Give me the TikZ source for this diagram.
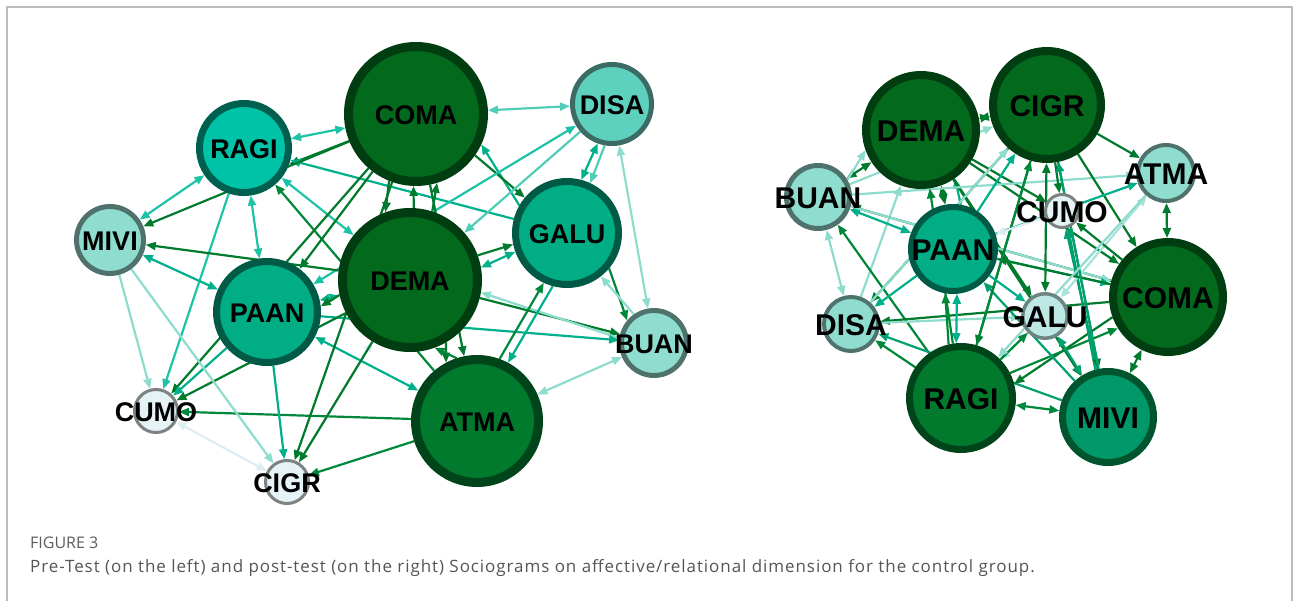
\documentclass[tikz,border=0pt]{standalone}
\usepackage{fontspec}
\setmainfont{Liberation Sans}
\newfontfamily\capfont{Open Sans}
\newfontfamily\capfontls{Open Sans}[LetterSpace=5.5]
\usetikzlibrary{arrows.meta}
\pgfdeclarelayer{edges}
\pgfsetlayers{edges,main}
% node colours
\definecolor{dkF}{HTML}{03691D}
\definecolor{dkB}{HTML}{003D10}
\definecolor{atF}{HTML}{017A2E}
\definecolor{atB}{HTML}{00441A}
\definecolor{rgF}{HTML}{00C2A6}
\definecolor{rgB}{HTML}{006050}
\definecolor{pnF}{HTML}{00AD85}
\definecolor{pnB}{HTML}{005A45}
\definecolor{dsF}{HTML}{5DD1BD}
\definecolor{dsB}{HTML}{3C6B63}
\definecolor{ltF}{HTML}{8EDDCF}
\definecolor{ltB}{HTML}{4F726C}
\definecolor{vlF}{HTML}{E6F3F6}
\definecolor{vlB}{HTML}{7C8282}
\definecolor{mvF}{HTML}{009868}
\definecolor{mvB}{HTML}{00552F}
\definecolor{glF}{HTML}{BEE8E4}
\definecolor{glB}{HTML}{6E8481}
% edge colours
\definecolor{eDk}{HTML}{007A2C}
\definecolor{eAt}{HTML}{00883A}
\definecolor{eRg}{HTML}{1DC3A6}
\definecolor{ePn}{HTML}{00B08A}
\definecolor{eDs}{HTML}{4FCDB6}
\definecolor{eLt}{HTML}{8EDCCD}
\definecolor{eVl}{HTML}{DCEEF2}
\definecolor{eMv}{HTML}{00A070}
\definecolor{eGl}{HTML}{A8E2DA}
\definecolor{framec}{HTML}{BBBBBB}
\definecolor{capfig}{HTML}{5C5C5C}
\definecolor{captxt}{HTML}{555555}
\tikzset{
  lbl/.style={inner sep=0pt, text=black},
  ed/.style={draw=#1, line width=2.2pt, -{Triangle[length=10pt,width=8pt]}},
  md/.style={draw=#1, line width=2.2pt, {Triangle[length=10pt,width=8pt]}-{Triangle[length=10pt,width=8pt]}},
}
% name, x, y, outer radius, border width, fill, draw, text, font size
\newcommand\mknode[9]{%
  \node[circle, inner sep=0pt, outer sep={#5*0.5pt}, minimum size={(2*#4-#5)*1pt},
        line width=#5pt, fill=#6, draw=#7,
        label={[lbl, font=\fontsize{#9}{#9}\selectfont\bfseries, yshift=-1.5pt]center:#8}]
        (#1) at (#2,#3) {};}
\newcommand\E[3]{\draw[ed=#3] (#1) -- (#2);}
\newcommand\M[3]{\draw[md=#3] (#1) -- (#2);}
\begin{document}
\begin{tikzpicture}[x=1pt,y=-1pt]
\useasboundingbox (0,0) rectangle (1293,601);
\draw[framec, line width=1.3pt] (7,601) -- (7,7) -- (1292,7) -- (1292,601);
% ---------------- left sociogram ----------------
\mknode{L-COMA}{416}{114}{72}{9}{dkF}{dkB}{COMA}{27}
\mknode{L-DEMA}{410}{280}{72}{9}{dkF}{dkB}{DEMA}{27}
\mknode{L-ATMA}{477}{421}{66}{9}{atF}{atB}{ATMA}{27}
\mknode{L-RAGI}{244}{148}{48}{7}{rgF}{rgB}{RAGI}{27}
\mknode{L-PAAN}{267}{312}{54}{7}{pnF}{pnB}{PAAN}{27}
\mknode{L-GALU}{567}{233}{55}{7}{pnF}{pnB}{GALU}{27}
\mknode{L-DISA}{612}{104}{42}{5}{dsF}{dsB}{DISA}{27}
\mknode{L-MIVI}{110}{240}{36}{5}{ltF}{ltB}{MIVI}{27}
\mknode{L-BUAN}{654}{343}{35}{5}{ltF}{ltB}{BUAN}{27}
\mknode{L-CUMO}{156}{411}{23}{3}{vlF}{vlB}{CUMO}{27}
\mknode{L-CIGR}{287}{482}{23}{3}{vlF}{vlB}{CIGR}{27}
% ---------------- right sociogram ----------------
\mknode{R-DEMA}{921}{130}{59}{8}{dkF}{dkB}{DEMA}{30}
\mknode{R-CIGR}{1047}{105}{58}{8}{dkF}{dkB}{CIGR}{30}
\mknode{R-COMA}{1168}{297}{59}{8}{dkF}{dkB}{COMA}{30}
\mknode{R-RAGI}{961}{398}{55}{7}{atF}{atB}{RAGI}{30}
\mknode{R-MIVI}{1108}{417}{49}{7}{mvF}{mvB}{MIVI}{30}
\mknode{R-PAAN}{953}{249}{45}{6}{pnF}{pnB}{PAAN}{30}
\mknode{R-BUAN}{818}{197}{34}{5}{ltF}{ltB}{BUAN}{30}
\mknode{R-ATMA}{1166}{173}{30}{4}{ltF}{ltB}{ATMA}{30}
\mknode{R-DISA}{851}{324}{29}{4}{ltF}{ltB}{DISA}{30}
\mknode{R-GALU}{1045}{316}{24}{3.5}{glF}{glB}{GALU}{30}
\mknode{R-CUMO}{1062}{211}{18}{3}{vlF}{vlB}{CUMO}{30}
% ---------------- caption ----------------
\node[anchor=base west, inner sep=0pt, text=capfig, font=\capfont\fontsize{16}{16}\selectfont] (fig) at (30,548) {FIGURE 3};
\node[anchor=base west, inner sep=0pt, text=captxt, font=\capfontls\fontsize{17}{17}\selectfont] (cap) at (30,572) {Pre-Test (on the left) and post-test (on the right) Sociograms on affective/relational dimension for the control group.};
% ---------------- edges ----------------
\begin{pgfonlayer}{edges}
% left
\M{L-RAGI}{L-COMA}{eRg}
\E{L-COMA.202}{L-RAGI.-20}{eDk}
\E{L-GALU}{L-RAGI}{ePn}
\M{L-MIVI}{L-RAGI}{eRg}
\E{L-COMA}{L-MIVI}{eDk}
\M{L-RAGI}{L-PAAN}{eRg}
\E{L-RAGI}{L-CUMO}{eRg}
\M{L-RAGI}{L-DEMA}{eRg}
\E{L-ATMA}{L-RAGI}{eAt}
\E{L-COMA}{L-PAAN}{eDk}
\E{L-COMA}{L-CUMO}{eDk}
\E{L-DEMA.87}{L-COMA.-92}{eDk}
\E{L-DEMA.72}{L-COMA.-73}{eDk}
\E{L-COMA.-112}{L-DEMA.110}{eDk}
\E{L-GALU.150}{L-COMA.-25}{ePn}
\E{L-COMA.-35}{L-GALU.140}{eDk}
\M{L-COMA}{L-DISA}{eDs}
\E{L-DISA}{L-DEMA}{eDs}
\M{L-PAAN}{L-DISA}{eRg}
\M{L-GALU.75}{L-DISA.-110}{ePn}
\E{L-DISA.-100}{L-GALU.65}{eDs}
\M{L-DISA}{L-BUAN}{eLt}
\E{L-GALU.-40}{L-BUAN.140}{eAt}
\E{L-BUAN.125}{L-GALU.-52}{eLt}
\M{L-DEMA.10}{L-GALU.200}{ePn}
\E{L-DEMA.20}{L-GALU.192}{eDk}
\E{L-DEMA}{L-BUAN}{eDk}
\E{L-BUAN.172}{L-DEMA.-10}{eLt}
\E{L-PAAN}{L-BUAN}{ePn}
\M{L-ATMA}{L-BUAN}{eLt}
\E{L-ATMA.70}{L-GALU.-115}{eAt}
\E{L-GALU.-105}{L-ATMA.62}{ePn}
\E{L-DEMA.-60}{L-ATMA.118}{eDk}
\E{L-ATMA.108}{L-DEMA.-70}{eAt}
\E{L-COMA}{L-ATMA}{eDk}
\M{L-PAAN}{L-ATMA}{ePn}
\E{L-ATMA}{L-CUMO}{eAt}
\E{L-ATMA}{L-CIGR}{eAt}
\E{L-CIGR}{L-DEMA}{eVl}
\E{L-DEMA}{L-CIGR}{eDk}
\E{L-COMA}{L-CIGR}{eDk}
\E{L-PAAN}{L-CIGR}{ePn}
\E{L-PAAN}{L-CUMO}{ePn}
\E{L-DEMA}{L-CUMO}{eDk}
\E{L-MIVI}{L-CUMO}{eLt}
\E{L-MIVI}{L-CIGR}{eLt}
\M{L-CUMO}{L-CIGR}{eVl}
\M{L-MIVI}{L-PAAN}{ePn}
\E{L-DEMA}{L-MIVI}{eDk}
\M{L-PAAN}{L-DEMA}{ePn}
\E{L-DEMA.192}{L-PAAN.6}{eDk}
% right
\M{R-DEMA}{R-BUAN}{eDk}
\E{R-BUAN.30}{R-DEMA.200}{eLt}
\M{R-DEMA}{R-CIGR}{eDk}
\M{R-DEMA.-70}{R-PAAN.100}{eDk}
\E{R-PAAN.80}{R-DEMA.-55}{ePn}
\E{R-DEMA}{R-CUMO}{eDk}
\E{R-DEMA}{R-GALU}{eDk}
\E{R-DEMA}{R-COMA}{eDk}
\E{R-DEMA}{R-MIVI}{eDk}
\E{R-DISA}{R-DEMA}{eLt}
\E{R-BUAN}{R-ATMA}{eLt}
\E{R-BUAN}{R-CIGR}{eLt}
\M{R-BUAN}{R-DISA}{eLt}
\E{R-COMA}{R-BUAN}{eDk}
\M{R-PAAN}{R-BUAN}{ePn}
\E{R-RAGI}{R-BUAN}{eAt}
\E{R-BUAN}{R-COMA}{eLt}
\E{R-CIGR}{R-DISA}{eDk}
\E{R-PAAN}{R-DISA}{ePn}
\E{R-COMA}{R-DISA}{eDk}
\E{R-DISA}{R-GALU}{eLt}
\E{R-RAGI}{R-DISA}{eAt}
\E{R-MIVI}{R-DISA}{eMv}
\M{R-PAAN.-85}{R-RAGI.95}{ePn}
\E{R-RAGI.103}{R-PAAN.-100}{eAt}
\E{R-CIGR}{R-RAGI}{eDk}
\E{R-GALU}{R-RAGI}{eGl}
\E{R-COMA.200}{R-RAGI.15}{eDk}
\E{R-RAGI.27}{R-COMA.212}{eAt}
\M{R-RAGI}{R-MIVI}{eAt}
\E{R-MIVI}{R-CUMO}{eMv}
\E{R-MIVI.105}{R-CUMO.-70}{eMv}
\M{R-COMA}{R-MIVI}{eDk}
\M{R-COMA}{R-ATMA}{eDk}
\E{R-CIGR}{R-ATMA}{eDk}
\E{R-CIGR}{R-CUMO}{eDk}
\E{R-CIGR}{R-COMA}{eDk}
\M{R-CIGR}{R-GALU}{eDk}
\E{R-CIGR}{R-MIVI}{eDk}
\M{R-GALU}{R-ATMA}{eGl}
\E{R-PAAN}{R-ATMA}{ePn}
\E{R-PAAN}{R-COMA}{ePn}
\E{R-COMA}{R-CUMO}{eDk}
\E{R-COMA}{R-PAAN}{eDk}
\E{R-MIVI}{R-PAAN}{eMv}
\E{R-MIVI}{R-CIGR}{eMv}
\M{R-GALU}{R-MIVI}{eMv}
\E{R-RAGI}{R-CIGR}{eAt}
\E{R-RAGI}{R-GALU}{eAt}
\E{R-PAAN}{R-GALU}{ePn}
\E{R-PAAN}{R-CIGR}{ePn}
\E{R-ATMA}{R-RAGI}{eLt}
\E{R-CUMO}{R-PAAN}{eVl}
\E{R-DISA}{R-CIGR}{eLt}
\E{R-RAGI}{R-DEMA}{eAt}
\end{pgfonlayer}
\end{tikzpicture}
\end{document}
